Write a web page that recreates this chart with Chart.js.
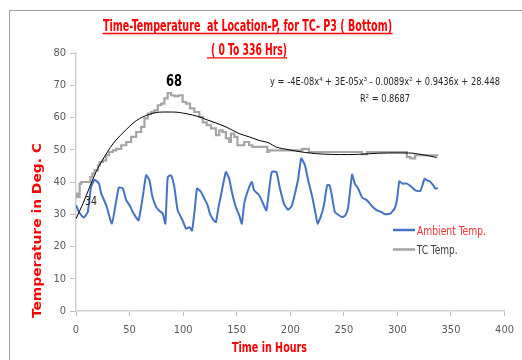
<!DOCTYPE html>
<html>
<head>
<meta charset="utf-8">
<script src="https://cdn.jsdelivr.net/npm/chart.js@4.4.1/dist/chart.umd.min.js"></script>
<style>
  html, body { margin: 0; padding: 0; background: #fff; }
  #wrap { width: 522px; height: 360px; position: relative; }
</style>
</head>
<body>
<div id="wrap"><canvas id="myChart" width="522" height="360"></canvas></div>
<script>
// hours / temps
const ambientHours = [0, 3.4, 7.2, 11, 14, 17.4, 21.4, 23.6, 28.2, 33.5, 37.6, 40, 43.7, 46.9, 50, 53, 58.3, 62.3, 65.5, 68.6,
  71, 74.8, 78, 81, 83.4, 85.6, 88.7, 91.8, 94.9, 99.5, 102.7, 105.8, 108.3, 111, 113, 116.7, 119.7, 122.8, 125, 128.1,
  130.6, 133, 135.3, 139.9, 143, 145.5, 149.2, 152.3, 154.8, 157, 160, 164.1, 166.3, 170.9, 174, 177.7, 180.2, 182.7, 187, 190.1,
  194.1, 197.9, 201.3, 204.4, 207.4, 210.2, 213.7, 216.7, 220.5, 223.6, 225.5, 228.3, 231.4, 234.4, 236.6, 238.5, 241.6, 245.3, 248.4, 251.5,
  254, 256.2, 257.7, 260.2, 263.3, 267, 271.7, 276.3, 281, 285, 288.7, 293.4, 297.4, 299.5, 301.8, 304.8, 308.8, 313.5, 316.6, 321.3,
  323.4, 325.3, 327.5, 329.7, 332.8, 335.3, 337.7];
const ambientTemps = [32.8, 30.4, 29, 30.7, 38.4, 40.7, 39.5, 36.4, 32.8, 27.1, 34.3, 38.3, 38, 34.3, 32.8, 30.7, 28.1, 35.4, 42.1, 40.5,
  35.9, 32.2, 31, 30.2, 27.1, 41.5, 42.1, 38.4, 31.2, 28.1, 25.5, 26, 25, 32, 38, 36.9, 34.9, 32.8, 30.2, 28.3,
  27.6, 32.2, 35.9, 43.1, 41, 36.9, 32.2, 29.7, 27.1, 33.3, 36.9, 40, 37.4, 35.9, 33.8, 31.2, 37.4, 43.1, 43.1, 38.4,
  33.3, 31.4, 32.5, 36.4, 41, 47.3, 45.2, 40.5, 35.4, 30.2, 27.1, 29.1, 32.8, 39, 39, 36.4, 30.7, 29.7, 29.1, 29.7,
  32.1, 38.4, 42.3, 39.5, 38, 35.2, 34.3, 32.5, 31.2, 30.7, 30, 30.2, 31.8, 34.3, 40.2, 39.5, 39.5, 38.4, 37.4, 37.2,
  39, 41, 40.5, 40.3, 39.3, 38, 38.1];

const tcHours = [0, 1.9, 3.4, 5, 9.6, 13.4, 15.2, 17.4, 20.5, 22, 25.1, 28.2, 30.7, 34.4, 37.6, 42.2, 46.9, 51.5, 56.2, 60.8,
  63.9, 67, 70.1, 73.2, 76.3, 79.4, 82.5, 85.6, 88.7, 91.8, 95.8, 99.5, 102.7, 106.4, 110.4, 115.1, 118.3, 122, 126, 130.6,
  133.7, 136.8, 139.9, 143, 144.6, 147.6, 150.7, 152.3, 157, 161.6, 164.7, 169.3, 178.6, 180.2, 198.8, 211.1, 217.4, 222, 267, 271.7,
  288.7, 308.8, 312, 316.6, 322.8, 338.3];
const tcTemps = [34.9, 36.4, 35.4, 39.5, 40, 40, 41.5, 42.6, 43.6, 45.2, 46.2, 46.7, 48.3, 49.3, 49.8, 50.3, 51.4, 52.4, 54, 55.5,
  57.1, 59.7, 61.2, 61.7, 62.2, 63.8, 64.3, 65.9, 67.6, 66.9, 66.6, 66.9, 64.8, 64.3, 62.8, 61.7, 60.2, 58.5, 57.6, 56.6,
  54.5, 56, 55.5, 53.5, 52.4, 55, 54, 51.4, 51.4, 52.4, 51.4, 50.9, 50.9, 49.3, 49.8, 49.8, 50.3, 49.3, 49.3, 48.6,
  49.3, 49.3, 47.8, 47.3, 48.3, 48.3];

const trendHours = [0, 6.5, 12.7, 19, 25.1, 34.4, 43.7, 56.2, 68.6, 81, 90.2, 102.7, 115.1, 121.3, 139.9, 152.3, 161.6, 170.9, 180.2, 186.4,
  198.8, 205, 223.6, 254.6, 291.8, 310.4, 322.8, 336.8];
const trendTemps = [28.6, 33.3, 38.4, 43.3, 47, 51.8, 55.2, 59, 61, 61.7, 61.7, 61.2, 60.2, 59.4, 57.1, 55, 54, 52.9, 52.1, 50.9,
  50, 49.6, 48.8, 48.5, 49, 49, 48.5, 47.6];

const xTicks = [0, 50, 100, 150, 200, 250, 300, 350, 400];
const yTicks = [0, 10, 20, 30, 40, 50, 60, 70, 80];

const NARROW = '"Liberation Sans Narrow", "DejaVu Sans Condensed", "Liberation Sans", sans-serif';

const toPoints = (xs, ys) => xs.map((x, i) => ({ x: x, y: ys[i] }));

// draw text squeezed/stretched to a measured width
const fitText = (ctx, text, x, y, width, font, color) => {
  ctx.save();
  ctx.font = font;
  ctx.fillStyle = color;
  ctx.textBaseline = 'alphabetic';
  ctx.textAlign = 'center';
  const s = width / ctx.measureText(text).width;
  ctx.translate(x, y);
  ctx.scale(s, 1);
  ctx.fillText(text, 0, 0);
  ctx.restore();
}

const underline = (ctx, x1, x2, y, color) => {
  ctx.save();
  ctx.strokeStyle = color;
  ctx.lineWidth = 1.3;
  ctx.beginPath();
  ctx.moveTo(x1, y);
  ctx.lineTo(x2, y);
  ctx.stroke();
  ctx.restore();
}

const decor = {
  id: 'decor',
  beforeDraw(chart) {
    const ctx = chart.ctx;
    ctx.save();
    ctx.fillStyle = '#fff';
    ctx.fillRect(0, 0, chart.width, chart.height);
    ctx.strokeStyle = '#a0a0a0';
    ctx.lineWidth = 1;
    ctx.strokeRect(9.5, 10.5, 700, 500);
    ctx.restore();
  },
  afterDraw(chart) {
    const ctx = chart.ctx;
    // title
    fitText(ctx, 'Time-Temperature  at Location-P, for TC- P3 ( Bottom)', 247.5, 30.5, 289, 'bold 15px ' + NARROW, '#ff0000');
    underline(ctx, 102.5, 392.5, 33.5, '#ff0000');
    fitText(ctx, '( 0 To 336 Hrs)', 249, 55, 76, 'bold 15px ' + NARROW, '#ff0000');
    underline(ctx, 207, 287, 57.8, '#ff0000');

    // axis titles
    fitText(ctx, 'Time in Hours', 269.5, 352, 75, 'bold 14px ' + NARROW, '#ff0000');
    ctx.save();
    ctx.translate(41, 230.5);
    ctx.rotate(-Math.PI / 2);
    fitText(ctx, 'Temperature in Deg. C', 0, 0, 175, 'bold 13px ' + NARROW, '#ff0000');
    ctx.restore();

    // annotations
    fitText(ctx, '68', 174, 86, 16, 'bold 16px ' + NARROW, '#000');
    fitText(ctx, '34', 91, 205, 12, '12px ' + NARROW, '#262626');
    fitText(ctx, 'y = -4E-08x\u2074 + 3E-05x\u00b3 - 0.0089x\u00b2 + 0.9436x + 28.448', 385, 84.5, 230, '11px ' + NARROW, '#262626');
    fitText(ctx, 'R\u00b2 = 0.8687', 385, 101.5, 50, '11px ' + NARROW, '#262626');

    // legend
    ctx.save();
    ctx.lineWidth = 2.5;
    ctx.strokeStyle = '#4472c4';
    ctx.beginPath(); ctx.moveTo(393, 230); ctx.lineTo(415, 230); ctx.stroke();
    ctx.strokeStyle = '#a5a5a5';
    ctx.beginPath(); ctx.moveTo(393, 249.5); ctx.lineTo(415, 249.5); ctx.stroke();
    ctx.restore();
    fitText(ctx, 'Ambient Temp.', 451.5, 234.5, 69, '12.5px ' + NARROW, '#ff3333');
    fitText(ctx, 'TC Temp.', 437.2, 253.5, 41, '12.5px ' + NARROW, '#404040');
  }
};

const tempChart = new Chart(document.getElementById('myChart').getContext('2d'), {
  type: 'line',
  data: {
    datasets: [
      {
        label: 'Ambient Temp.',
        data: toPoints(ambientHours, ambientTemps),
        borderColor: '#4472c4',
        borderWidth: 2,
        pointRadius: 0,
        tension: 0.15,
        order: 1
      },
      {
        label: 'TC Temp.',
        data: toPoints(tcHours, tcTemps),
        borderColor: '#a5a5a5',
        borderWidth: 2.2,
        pointRadius: 0,
        stepped: 'after',
        order: 2
      },
      {
        label: 'Poly. (TC Temp.)',
        data: toPoints(trendHours, trendTemps),
        borderColor: '#000',
        borderWidth: 1,
        pointRadius: 0,
        cubicInterpolationMode: 'monotone',
        order: 0
      }
    ]
  },
  options: {
    responsive: false,
    animation: false,
    layout: { padding: { top: 53, right: 16, left: 0, bottom: 0 } },
    plugins: {
      legend: { display: false },
      tooltip: { enabled: false },
      title: { display: false }
    },
    scales: {
      x: {
        type: 'linear',
        min: 0,
        max: 400,
        afterBuildTicks: scale => { scale.ticks = xTicks.map(v => ({ value: v })); },
        afterFit: scale => { scale.height = 49; },
        grid: { drawOnChartArea: false, tickLength: 5, color: '#bfbfbf' },
        border: { color: '#d0d0d0', width: 1.5 },
        ticks: { padding: 8, color: '#595959', font: { family: NARROW, size: 11 } }
      },
      y: {
        min: 0,
        max: 80,
        afterBuildTicks: scale => { scale.ticks = yTicks.map(v => ({ value: v })); },
        afterFit: scale => { scale.width = 76; },
        grid: { drawOnChartArea: false, tickLength: 6, color: '#bfbfbf' },
        border: { color: '#d0d0d0', width: 1.5 },
        ticks: { padding: 4, color: '#595959', font: { family: NARROW, size: 11 } }
      }
    }
  },
  plugins: [decor]
});
</script>
</body>
</html>
